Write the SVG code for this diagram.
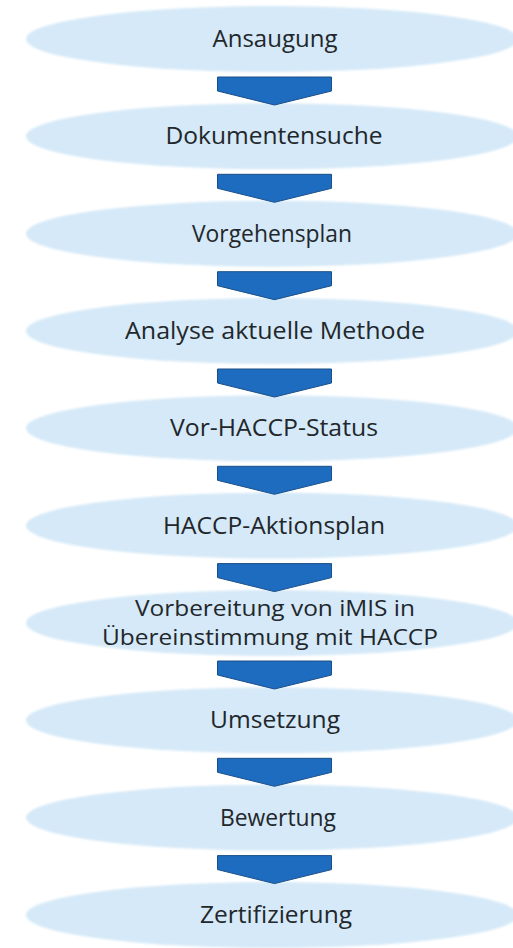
<svg xmlns="http://www.w3.org/2000/svg" width="513" height="948" viewBox="0 0 513 948">
<defs>
<filter id="soft" x="-5%" y="-20%" width="110%" height="140%"><feGaussianBlur stdDeviation="1.2"/></filter>
<path id="chev" d="M0,0 H114 V14 L57,28 L0,14 Z"/>
</defs>
<style>
.bg{fill:#ffffff}
.node ellipse{fill:#d5e9f8;filter:url(#soft)}
.node text{font-family:"Open Sans","Noto Sans",sans-serif;font-size:23px;fill:#22272b;text-anchor:middle}
.node text.two{font-size:21px}
.arrow{fill:#1e6cc0;stroke:#1a4f87;stroke-width:1;stroke-linejoin:round}
</style>
<rect class="bg" x="0" y="0" width="513" height="948"/>
<g id="n0" class="node"><ellipse cx="272" cy="39" rx="246" ry="33"/><text x="275" y="47" textLength="125" lengthAdjust="spacingAndGlyphs">Ansaugung</text></g>
<g id="n1" class="node"><ellipse cx="272" cy="136.3" rx="246" ry="33"/><text x="274" y="144.3" textLength="217" lengthAdjust="spacingAndGlyphs">Dokumentensuche</text></g>
<g id="n2" class="node"><ellipse cx="272" cy="233.7" rx="246" ry="33"/><text x="272" y="241.7" textLength="160" lengthAdjust="spacingAndGlyphs">Vorgehensplan</text></g>
<g id="n3" class="node"><ellipse cx="272" cy="331" rx="246" ry="33"/><text x="275" y="339" textLength="300" lengthAdjust="spacingAndGlyphs">Analyse aktuelle Methode</text></g>
<g id="n4" class="node"><ellipse cx="272" cy="428.3" rx="246" ry="33"/><text x="274" y="436.3" textLength="208" lengthAdjust="spacingAndGlyphs">Vor-HACCP-Status</text></g>
<g id="n5" class="node"><ellipse cx="272" cy="525.6" rx="246" ry="33"/><text x="274" y="533.6" textLength="222" lengthAdjust="spacingAndGlyphs">HACCP-Aktionsplan</text></g>
<g id="n6" class="node"><ellipse cx="272" cy="623" rx="246" ry="33"/><text class="two" x="275" y="616" textLength="280" lengthAdjust="spacingAndGlyphs">Vorbereitung von iMIS in</text><text class="two" x="270" y="645" textLength="336" lengthAdjust="spacingAndGlyphs">Übereinstimmung mit HACCP</text></g>
<g id="n7" class="node"><ellipse cx="272" cy="720.3" rx="246" ry="33"/><text x="275" y="728.3" textLength="130" lengthAdjust="spacingAndGlyphs">Umsetzung</text></g>
<g id="n8" class="node"><ellipse cx="272" cy="817.6" rx="246" ry="33"/><text x="278" y="825.6" textLength="116" lengthAdjust="spacingAndGlyphs">Bewertung</text></g>
<g id="n9" class="node"><ellipse cx="272" cy="915" rx="246" ry="33"/><text x="276" y="923" textLength="152" lengthAdjust="spacingAndGlyphs">Zertifizierung</text></g>
<g id="connectors">
<use href="#chev" class="arrow" x="217.5" y="77"/>
<use href="#chev" class="arrow" x="217.5" y="174.3"/>
<use href="#chev" class="arrow" x="217.5" y="271.7"/>
<use href="#chev" class="arrow" x="217.5" y="369"/>
<use href="#chev" class="arrow" x="217.5" y="466.3"/>
<use href="#chev" class="arrow" x="217.5" y="563.6"/>
<use href="#chev" class="arrow" x="217.5" y="661"/>
<use href="#chev" class="arrow" x="217.5" y="758.3"/>
<use href="#chev" class="arrow" x="217.5" y="855.6"/>
</g>
</svg>
